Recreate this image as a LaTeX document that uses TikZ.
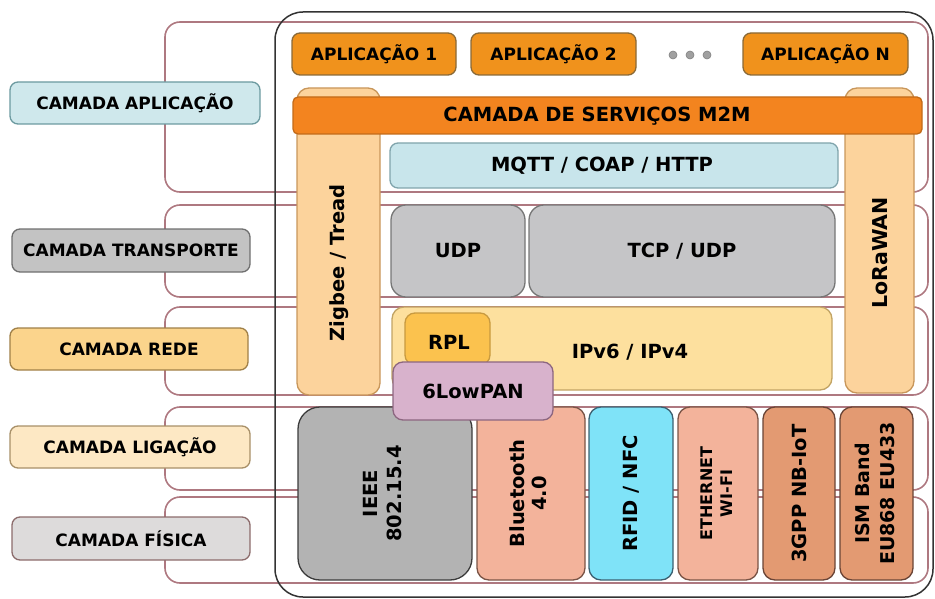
\documentclass[tikz,border=0pt]{standalone}
\usepackage{fontspec}
\setmainfont{DejaVu Sans}
\definecolor{bandc}{HTML}{AE7880}
\definecolor{framec}{HTML}{333333}
\definecolor{appF}{HTML}{CFE8EC}\definecolor{appD}{HTML}{6C9AA0}
\definecolor{traF}{HTML}{C3C3C3}\definecolor{traD}{HTML}{707070}
\definecolor{redF}{HTML}{FBD48C}\definecolor{redD}{HTML}{A08048}
\definecolor{ligF}{HTML}{FDE8C4}\definecolor{ligD}{HTML}{A89068}
\definecolor{fisF}{HTML}{DDDBDB}\definecolor{fisD}{HTML}{8C6C6C}
\definecolor{aplF}{HTML}{F0921C}\definecolor{aplD}{HTML}{8A6A38}
\definecolor{m2mF}{HTML}{F3841F}\definecolor{m2mD}{HTML}{C26A18}
\definecolor{zigF}{HTML}{FCD39C}\definecolor{zigD}{HTML}{C8965A}
\definecolor{mqtF}{HTML}{C8E5EB}\definecolor{mqtD}{HTML}{80A4AC}
\definecolor{udpF}{HTML}{C5C5C7}\definecolor{udpD}{HTML}{767676}
\definecolor{ipF}{HTML}{FDE09E}\definecolor{ipD}{HTML}{C2A464}
\definecolor{rplF}{HTML}{FBC24E}\definecolor{rplD}{HTML}{C89A40}
\definecolor{lowF}{HTML}{D8B2CC}\definecolor{lowD}{HTML}{8C6680}
\definecolor{ieeF}{HTML}{B3B3B3}\definecolor{ieeD}{HTML}{3C3C3C}
\definecolor{bluF}{HTML}{F3B39B}\definecolor{bluD}{HTML}{7A5446}
\definecolor{rfiF}{HTML}{7FE3F8}\definecolor{rfiD}{HTML}{3C6070}
\definecolor{gppF}{HTML}{E39A72}\definecolor{gppD}{HTML}{6A4436}
\definecolor{dotc}{HTML}{A0A0A0}
\tikzset{
  box/.style={draw, line width=1.3pt, inner sep=0pt, text=black},
  lab/.style={box, font=\fontsize{17}{20}\selectfont\bfseries, rounded corners=8pt},
  inr/.style={box, font=\fontsize{19.5}{24}\selectfont\bfseries},
  txt/.style={inner sep=0pt, text=black, font=\fontsize{19.5}{24}\selectfont\bfseries},
  band/.style={draw=bandc, line width=1.6pt, rounded corners=15pt},
}
\newcommand\rot[1]{\rotatebox{90}{\begin{tabular}{@{}c@{}}#1\end{tabular}}}
\begin{document}
\begin{tikzpicture}[x=1pt,y=-1pt]
\useasboundingbox (0,0) rectangle (935,599);
% layer bands
\draw[band] (165,22) rectangle (928,192);
\draw[band] (165,205) rectangle (928,297);
\draw[band] (165,307) rectangle (928,395);
\draw[band] (165,407) rectangle (928,490);
\draw[band] (165,497) rectangle (928,583);
% outer frame
\draw[framec, line width=1.5pt, rounded corners=28pt] (275,12) rectangle (933,597);
% left labels
\node[lab, fill=appF, draw=appD, minimum width=250, minimum height=42] (lapp) at (135,103) {CAMADA APLICAÇÃO};
\node[lab, fill=traF, draw=traD, minimum width=238, minimum height=43] (ltra) at (131,250.5) {CAMADA TRANSPORTE};
\node[lab, fill=redF, draw=redD, minimum width=238, minimum height=42] (lred) at (129,349) {CAMADA REDE};
\node[lab, fill=ligF, draw=ligD, minimum width=240, minimum height=42] (llig) at (130,447) {CAMADA LIGAÇÃO};
\node[lab, fill=fisF, draw=fisD, minimum width=238, minimum height=43] (lfis) at (131,538.5) {CAMADA FÍSICA};
% applications
\node[lab, fill=aplF, draw=aplD, minimum width=164, minimum height=42] (a1) at (374,54) {APLICAÇÃO 1};
\node[lab, fill=aplF, draw=aplD, minimum width=165, minimum height=42] (a2) at (553.5,54) {APLICAÇÃO 2};
\node[lab, fill=aplF, draw=aplD, minimum width=165, minimum height=42] (aN) at (825.5,54) {APLICAÇÃO N};
\node[circle, fill=dotc, draw=gray, line width=0.6pt, minimum size=8pt, inner sep=0pt] (d1) at (673,55) {};
\node[circle, fill=dotc, draw=gray, line width=0.6pt, minimum size=8pt, inner sep=0pt] (d2) at (690,55) {};
\node[circle, fill=dotc, draw=gray, line width=0.6pt, minimum size=8pt, inner sep=0pt] (d3) at (707,55) {};
% vertical side stacks
\node[box, fill=zigF, draw=zigD, rounded corners=12pt, minimum width=83, minimum height=307] (zig) at (338.5,241.5) {};
\node[box, fill=zigF, draw=zigD, rounded corners=12pt, minimum width=69, minimum height=305] (lora) at (879.5,240.5) {};
% M2M
\node[box, fill=m2mF, draw=m2mD, rounded corners=5pt, minimum width=629, minimum height=37] (m2m) at (607.5,115.5) {};
\node[txt] (m2mt) at (597,116) {CAMADA DE SERVIÇOS M2M};
\node[txt] (zigt) at (339,263) {\rotatebox{90}{Zigbee / Tread}};
\node[txt, font=\fontsize{20.5}{24}\selectfont\bfseries] (lorat) at (880,253) {\rotatebox{90}{LoRaWAN}};
% application protocols
\node[box, fill=mqtF, draw=mqtD, rounded corners=8pt, minimum width=448, minimum height=45] (mqtt) at (614,165.5) {};
\node[txt] (mqttt) at (602,166) {MQTT / COAP / HTTP};
% transport
\node[inr, fill=udpF, draw=udpD, rounded corners=15pt, minimum width=134, minimum height=92] (udp) at (458,251) {UDP};
\node[inr, fill=udpF, draw=udpD, rounded corners=15pt, minimum width=306, minimum height=92] (tcp) at (682,251) {TCP / UDP};
% network
\node[box, fill=ipF, draw=ipD, rounded corners=12pt, minimum width=440, minimum height=83] (ip) at (612,348.5) {};
\node[txt] (ipt) at (630,352) {IPv6 / IPv4};
\node[box, fill=rplF, draw=rplD, rounded corners=10pt, minimum width=85, minimum height=52] (rpl) at (447.5,339) {};
\node[txt] (rplt) at (449,342) {RPL};
% link / physical
\node[inr, fill=ieeF, draw=ieeD, rounded corners=22pt, minimum width=174, minimum height=173] (ieee) at (385,493.5) {\rot{IEEE\\802.15.4}};
\node[inr, fill=bluF, draw=bluD, rounded corners=12pt, minimum width=108, minimum height=173, font=\fontsize{19.5}{22}\selectfont\bfseries] (blue) at (531,493.5) {\rot{Bluetooth\\4.0}};
\node[inr, fill=rfiF, draw=rfiD, rounded corners=12pt, minimum width=84, minimum height=173] (rfid) at (631,493.5) {\rotatebox{90}{RFID / NFC}};
\node[inr, fill=bluF, draw=bluD, rounded corners=12pt, minimum width=80, minimum height=173, font=\fontsize{16}{20}\selectfont\bfseries] (eth) at (718,493.5) {\rot{ETHERNET\\WI-FI}};
\node[inr, fill=gppF, draw=gppD, rounded corners=12pt, minimum width=72, minimum height=173] (gpp) at (799,493.5) {\rotatebox{90}{3GPP NB-IoT}};
\node[inr, fill=gppF, draw=gppD, rounded corners=12pt, minimum width=73, minimum height=173, font=\fontsize{19}{25}\selectfont\bfseries] (ism) at (876.5,493.5) {\rot{ISM Band\\EU868 EU433}};
% 6LowPAN on top
\node[inr, fill=lowF, draw=lowD, rounded corners=10pt, minimum width=160, minimum height=58] (low) at (473,391) {6LowPAN};
\end{tikzpicture}
\end{document}
